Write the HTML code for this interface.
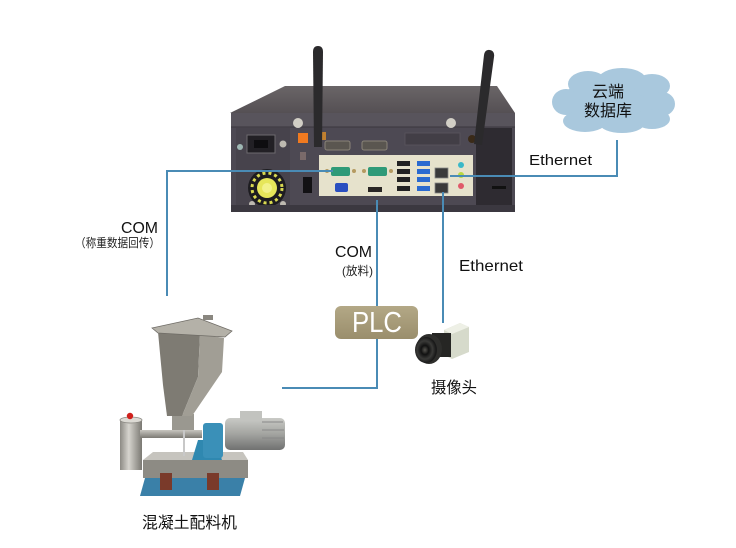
<!DOCTYPE html>
<html><head><meta charset="utf-8"><style>
html,body{margin:0;padding:0;background:#fff;}
svg{display:block;}
text{font-family:"Liberation Sans","Noto Sans CJK SC",sans-serif;}
</style></head><body>
<svg width="736" height="548" viewBox="0 0 736 548" xmlns="http://www.w3.org/2000/svg">
<defs>
<linearGradient id="top" x1="0" y1="0" x2="0" y2="1"><stop offset="0" stop-color="#6a6567"/><stop offset="1" stop-color="#555054"/></linearGradient>
<linearGradient id="plc" x1="0" y1="0" x2="0" y2="1"><stop offset="0" stop-color="#b3a886"/><stop offset="1" stop-color="#9a8e6c"/></linearGradient>
<linearGradient id="cyl" x1="0" y1="0" x2="1" y2="0"><stop offset="0" stop-color="#8c8a84"/><stop offset="0.4" stop-color="#d6d4ce"/><stop offset="1" stop-color="#7a7872"/></linearGradient>
<linearGradient id="pipe" x1="0" y1="0" x2="0" y2="1"><stop offset="0" stop-color="#c8c6c0"/><stop offset="1" stop-color="#7c7a74"/></linearGradient>
<linearGradient id="motor" x1="0" y1="0" x2="0" y2="1"><stop offset="0" stop-color="#c9cac6"/><stop offset="0.5" stop-color="#a3a4a0"/><stop offset="1" stop-color="#707170"/></linearGradient>
<radialGradient id="lens" cx="0.45" cy="0.5" r="0.5"><stop offset="0" stop-color="#55544f"/><stop offset="0.35" stop-color="#111"/><stop offset="0.7" stop-color="#3a3a38"/><stop offset="1" stop-color="#1a1a1a"/></radialGradient>
</defs>

<!-- ============ Computer ============ -->
<polygon points="285,86 497,86 515,113 230,113" fill="url(#top)"/>
<rect x="231" y="113" width="284" height="99" rx="2" fill="#4d4953"/>
<rect x="231" y="113" width="284" height="14" fill="#58545c"/>
<line x1="231" y1="127" x2="515" y2="127" stroke="#3a363e" stroke-width="1"/>
<!-- left panel -->
<rect x="236" y="128" width="54" height="80" fill="#47434c"/>
<rect x="247" y="135" width="28" height="18" fill="#222025" stroke="#6c6a6e" stroke-width="1"/>
<rect x="254" y="140" width="14" height="8" fill="#0e0d10"/>
<circle cx="240" cy="147" r="3" fill="#9fb8b4"/>
<circle cx="283" cy="144" r="3.5" fill="#bdb9b0"/>
<circle cx="267" cy="188" r="19" fill="#1d1c20"/>
<circle cx="267" cy="188" r="15" fill="none" stroke="#d8d850" stroke-width="3" stroke-dasharray="3 3"/>
<circle cx="267" cy="188" r="10" fill="#e6e65a"/>
<circle cx="267" cy="188" r="5" fill="#f2f28a"/>
<circle cx="252" cy="204" r="3" fill="#bdb9b0"/>
<circle cx="283" cy="204" r="3" fill="#bdb9b0"/>
<!-- mid controls -->
<rect x="298" y="133" width="10" height="10" fill="#f07a20"/>
<rect x="303" y="177" width="9" height="16" fill="#121114"/>
<rect x="300" y="152" width="6" height="8" fill="#7a6a6a"/>
<!-- upper com ports -->
<rect x="325" y="141" width="25" height="9" rx="2" fill="#5a5650" stroke="#8a8478" stroke-width="1"/>
<rect x="362" y="141" width="25" height="9" rx="2" fill="#5a5650" stroke="#8a8478" stroke-width="1"/>
<rect x="405" y="133" width="55" height="12" fill="#423e46" stroke="#5a565e" stroke-width="0.8"/>
<!-- screws -->
<circle cx="298" cy="123" r="5" fill="#d2cfc6"/>
<circle cx="451" cy="123" r="5" fill="#d2cfc6"/>
<!-- IO panel -->
<rect x="319" y="155" width="154" height="41" fill="#e6e2cc"/>
<rect x="331" y="167" width="19" height="9" rx="2" fill="#2f9a78"/>
<circle cx="327" cy="171" r="2" fill="#b59a60"/><circle cx="354" cy="171" r="2" fill="#b59a60"/>
<rect x="368" y="167" width="19" height="9" rx="2" fill="#2f9a78"/>
<circle cx="364" cy="171" r="2" fill="#b59a60"/><circle cx="391" cy="171" r="2" fill="#b59a60"/>
<rect x="335" y="183" width="13" height="9" rx="2" fill="#2a4fc0"/>
<rect x="368" y="187" width="14" height="5" fill="#2a2624"/>
<rect x="397" y="161" width="13" height="5" fill="#222"/><rect x="397" y="169" width="13" height="5" fill="#222"/>
<rect x="397" y="177" width="13" height="5" fill="#222"/><rect x="397" y="186" width="13" height="5" fill="#222"/>
<rect x="417" y="161" width="13" height="5" fill="#2a6ad0"/><rect x="417" y="169" width="13" height="5" fill="#2a6ad0"/>
<rect x="417" y="177" width="13" height="5" fill="#2a6ad0"/><rect x="417" y="186" width="13" height="5" fill="#2a6ad0"/>
<rect x="435" y="168" width="13" height="10" fill="#3a3a3a" stroke="#888" stroke-width="0.8"/>
<rect x="435" y="183" width="13" height="10" fill="#3a3a3a" stroke="#888" stroke-width="0.8"/>
<circle cx="461" cy="165" r="3" fill="#3ab8c8"/>
<circle cx="461" cy="175" r="3" fill="#b8d840"/>
<circle cx="461" cy="186" r="3" fill="#e05a6a"/>
<!-- right dark panel -->
<rect x="476" y="128" width="36" height="77" fill="#2e2b31"/>
<rect x="492" y="186" width="14" height="3" fill="#111"/>
<rect x="231" y="205" width="284" height="7" fill="#3b3840"/>
<!-- antennas -->
<rect x="320" y="132" width="6" height="8" fill="#c08030"/>
<path d="M313,52 Q313,46 318,46 Q323,46 323,52 L322,147 L314,147 Z" fill="#2b2a2c"/>
<circle cx="472" cy="139" r="4" fill="#3a2a18"/>
<path d="M484,55 Q485,49 490,50 Q495,51 494,57 L482,145 L474,144 Z" fill="#2b2a2c"/>

<!-- ============ Connectors ============ -->
<g stroke="#4a8bb5" stroke-width="2" fill="none">
<polyline points="167,296 167,171 333,171"/>
<polyline points="377,200 377,388 282,388"/>
<polyline points="443,192 443,323"/>
<polyline points="450,176 617,176 617,140"/>
</g>

<!-- ============ Cloud ============ -->
<g fill="#a9c8dd">
<ellipse cx="613" cy="102" rx="52" ry="24"/>
<ellipse cx="588" cy="84" rx="20" ry="13"/>
<ellipse cx="622" cy="80" rx="24" ry="12"/>
<ellipse cx="652" cy="86" rx="18" ry="12"/>
<ellipse cx="566" cy="102" rx="14" ry="13"/>
<ellipse cx="662" cy="104" rx="13" ry="12"/>
<ellipse cx="585" cy="121" rx="22" ry="11"/>
<ellipse cx="622" cy="124" rx="22" ry="9"/>
<ellipse cx="652" cy="119" rx="18" ry="10"/>
</g>
<text x="608" y="97" font-size="16" text-anchor="middle" fill="#111">云端</text>
<text x="608" y="116" font-size="16" text-anchor="middle" fill="#111">数据库</text>

<!-- ============ Labels ============ -->
<text x="529" y="165" font-size="15" fill="#111" textLength="63" lengthAdjust="spacingAndGlyphs">Ethernet</text>
<text x="459" y="271" font-size="16" fill="#111" textLength="64" lengthAdjust="spacingAndGlyphs">Ethernet</text>
<text x="121" y="233" font-size="16" fill="#111" textLength="37" lengthAdjust="spacingAndGlyphs">COM</text>
<text x="75" y="247" font-size="12" fill="#222" textLength="85" lengthAdjust="spacingAndGlyphs">（称重数据回传）</text>
<text x="335" y="257" font-size="16" fill="#111" textLength="37" lengthAdjust="spacingAndGlyphs">COM</text>
<text x="342" y="275" font-size="12" fill="#222" textLength="31" lengthAdjust="spacingAndGlyphs">(放料)</text>

<!-- PLC -->
<rect x="335" y="306" width="83" height="33" rx="6" fill="url(#plc)"/>
<text x="352" y="332" font-size="29" fill="#fff" textLength="50" lengthAdjust="spacingAndGlyphs">PLC</text>

<!-- ============ Camera ============ -->
<polygon points="444,330 460,323 469,327 469,352 452,359 444,355" fill="#d6dacb"/>
<polygon points="444,330 460,323 469,327 452,334" fill="#eef0e6"/>
<rect x="432" y="333" width="19" height="24" fill="#262624"/>
<ellipse cx="429" cy="349" rx="13" ry="15" fill="#2e2e2c"/>
<ellipse cx="426" cy="350" rx="11" ry="13" fill="url(#lens)"/>
<text x="431" y="393" font-size="16" fill="#111" textLength="46" lengthAdjust="spacingAndGlyphs">摄像头</text>

<!-- ============ Mixer ============ -->
<polygon points="145,478 245,478 240,496 140,496" fill="#3a80a8"/>
<polygon points="153,452 243,452 248,460 143,460" fill="#c6c4be"/>
<rect x="143" y="460" width="105" height="18" fill="#8d8b84"/>
<rect x="160" y="473" width="12" height="17" fill="#7a3a2a"/>
<rect x="207" y="473" width="12" height="17" fill="#7a3a2a"/>
<rect x="120" y="420" width="22" height="50" fill="url(#cyl)"/>
<ellipse cx="131" cy="420" rx="11" ry="3" fill="#dcdad4" stroke="#8a8882" stroke-width="0.8"/>
<circle cx="130" cy="416" r="3.2" fill="#d0201c"/>
<rect x="140" y="430" width="62" height="8" fill="url(#pipe)"/>
<rect x="172" y="414" width="22" height="16" fill="#9a9890"/>
<rect x="183" y="430" width="2" height="26" fill="#c8c8c8"/>
<polygon points="198,440 215,440 222,460 192,460" fill="#2f88b0"/>
<rect x="203" y="423" width="20" height="35" rx="3" fill="#3a90b8"/>
<rect x="225" y="418" width="60" height="32" rx="5" fill="url(#motor)"/>
<rect x="240" y="411" width="22" height="9" fill="#c2c3bf"/>
<line x1="262" y1="422" x2="283" y2="422" stroke="#888" stroke-width="1"/>
<line x1="262" y1="430" x2="284" y2="430" stroke="#888" stroke-width="1"/>
<line x1="262" y1="438" x2="284" y2="438" stroke="#888" stroke-width="1"/>
<polygon points="158,332 200,334 198,377 182,416 167,416 163,385" fill="#7e7b73"/>
<polygon points="200,334 224,338 222,372 192,416 182,416 198,377" fill="#a19e95"/>
<polygon points="152,328 198,318 232,331 225,337 158,333" fill="#b4b1a8" stroke="#6f6c66" stroke-width="0.8"/>
<rect x="203" y="315" width="10" height="5" fill="#8a8780"/>
<text x="142" y="528" font-size="16" fill="#111" textLength="95" lengthAdjust="spacingAndGlyphs">混凝土配料机</text>
</svg>
</body></html>
